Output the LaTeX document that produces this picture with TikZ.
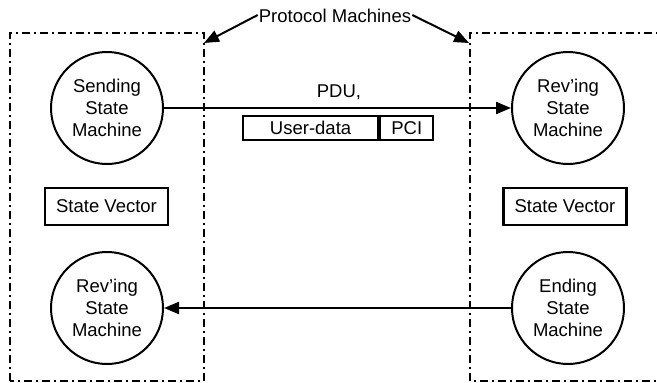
\documentclass[tikz,border=0pt]{standalone}
\usepackage{fontspec}
\setmainfont{Liberation Sans}
\usetikzlibrary{arrows.meta}
\tikzset{
  machine/.style={draw, circle, line width=2pt, minimum size=112pt, inner sep=0pt, align=center, font=\fontsize{18.5}{22}\selectfont},
  vecbox/.style={draw, line width=2.2pt, minimum width=123pt, minimum height=37pt, inner sep=0pt, font=\fontsize{18.5}{22}\selectfont},
  pdubox/.style={draw, line width=2.2pt, minimum height=24pt, inner sep=0pt, font=\fontsize{18.5}{22}\selectfont},
  flow/.style={line width=2pt, -{Triangle[length=15pt,width=12pt]}},
  pmbox/.style={line width=2.6pt, dash pattern=on 8pt off 4pt on 2pt off 4pt},
  lbl/.style={inner sep=0pt, font=\fontsize{18.5}{22}\selectfont},
}
\begin{document}
\begin{tikzpicture}[x=1pt,y=-1pt]
\useasboundingbox (0,0) rectangle (657,383);
\clip (0,0) rectangle (657,383);
% protocol machine boxes
\draw[pmbox] (10,381) -- (10,33) -- (204,33) -- (204,381) -- cycle;
\draw[pmbox] (670,33) -- (470,33) -- (470,381) -- (670,381);
% machines
\node[machine] (send) at (107,108) {Sending\\State\\Machine};
\node[machine] (rev1) at (568,108) {Rev’ing\\State\\Machine};
\node[machine] (rev2) at (107,308) {Rev’ing\\State\\Machine};
\node[machine] (end) at (568,308) {Ending\\State\\Machine};
% state vectors
\node[vecbox] (sv1) at (106.5,206.5) {State Vector};
\node[vecbox] (sv2) at (565,206.5) {State Vector};
% PDU
\node[pdubox, minimum width=135pt, anchor=west] (ud) at (242,128) {User-data};
\node[pdubox, minimum width=53pt, anchor=west] (pci) at (ud.east) {PCI};
\node[lbl] (pdu) at (339,92) {PDU,};
% flows
\draw[flow] (send) -- (rev1);
\draw[flow] (end) -- (rev2);
% protocol machines label
\node[lbl] (pm) at (335,16) {Protocol Machines};
\coordinate (lt) at (204,43);
\coordinate (rt) at (469,43);
\draw[flow] ([xshift=-1pt,yshift=1pt]pm.west) -- (lt);
\draw[flow] ([xshift=1pt,yshift=1pt]pm.east) -- (rt);
\end{tikzpicture}
\end{document}
